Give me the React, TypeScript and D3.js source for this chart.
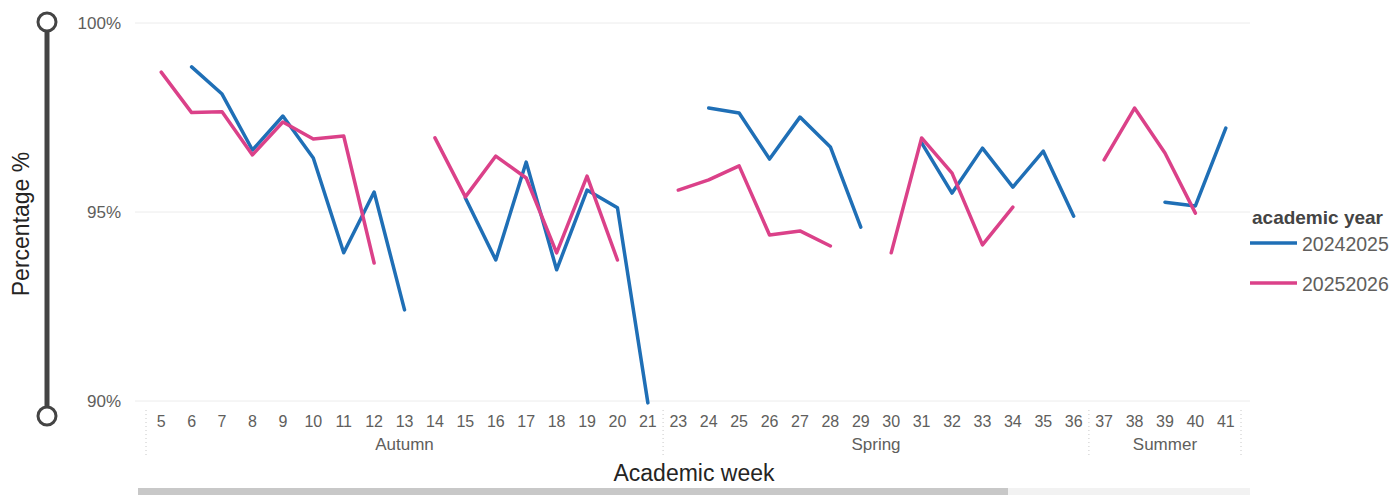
import React from "react";
import * as d3 from "d3";

const weeks: number[] = [5,6,7,8,9,10,11,12,13,14,15,16,17,18,19,20,21,23,24,25,26,27,28,29,30,31,32,33,34,35,36,37,38,39,40,41];
const terms: { name: string; first: number; last: number }[] = [
  { name: "Autumn", first: 5, last: 21 },
  { name: "Spring", first: 23, last: 36 },
  { name: "Summer", first: 37, last: 41 },
];
const series2024: (number | null)[] = [
  null, 98.84, 98.12, 96.64, 97.54, 96.43, 93.92, 95.53, 92.41, null, 95.37, 93.73, 96.32, 93.47, 95.58, 95.11, 89.95,
  null, 97.75, 97.62, 96.40, 97.51, 96.72, 94.60, null, 96.83, 95.50, 96.69, 95.66, 96.61, 94.89,
  null, null, 95.26, 95.16, 97.22,
];
const series2025: (number | null)[] = [
  98.70, 97.63, 97.65, 96.51, 97.38, 96.93, 97.01, 93.65, null, 96.96, 95.40, 96.48, 95.90, 93.92, 95.95, 93.73, null,
  95.58, 95.85, 96.22, 94.39, 94.50, 94.10, null, 93.92, 96.96, 96.03, 94.13, 95.13, null, null,
  96.38, 97.75, 96.56, 94.97, null,
];
const yTicks: number[] = [90, 95, 100];
const legendItems = [
  { label: "20242025", color: "#1F6FB6", values: series2024 },
  { label: "20252026", color: "#DB4189", values: series2025 },
];

const FONT = "'Liberation Sans', Arial, sans-serif";

export default function App() {
  const W = 1392, H = 495;
  const x = d3.scaleBand<number>().domain(weeks).range([146, 1241]).padding(0);
  const y = d3.scaleLinear().domain([90, 100]).range([401, 23]);
  const cx = (w: number) => (x(w) as number) + x.bandwidth() / 2;

  const line = d3
    .line<number | null>()
    .defined((d) => d != null)
    .x((_, i) => cx(weeks[i]))
    .y((d) => y(d as number));

  const sepXs: number[] = [x(terms[0].first) as number];
  terms.forEach((t) => sepXs.push((x(t.last) as number) + x.bandwidth()));

  return (
    <div style={{ position: "absolute", left: 0, top: 0 }}>
      <svg width={W} height={H} style={{ display: "block", fontFamily: FONT }}>
        <rect width={W} height={H} fill="#fff" />
        {/* slider */}
        <line x1={47} x2={47} y1={31} y2={407} stroke="#444" strokeWidth={5} />
        <circle cx={47} cy={22} r={9} fill="#fff" stroke="#444" strokeWidth={3} />
        <circle cx={47} cy={416} r={9} fill="#fff" stroke="#444" strokeWidth={3} />

        {/* gridlines and y ticks */}
        {yTicks.map((t) => (
          <g key={t}>
            <line x1={135} x2={1250} y1={y(t)} y2={y(t)} stroke="#ececec" strokeWidth={1} />
            <text x={121} y={y(t)} textAnchor="end" dominantBaseline="central" fontSize={17} fill="#605e5c">
              {t}%
            </text>
          </g>
        ))}

        {/* x ticks */}
        {weeks.map((w) => (
          <text key={w} x={cx(w)} y={421} textAnchor="middle" dominantBaseline="central" fontSize={16} fill="#605e5c">
            {w}
          </text>
        ))}
        {sepXs.map((sx, i) => (
          <line key={i} x1={sx} x2={sx} y1={410} y2={458} stroke="#c8c8c8" strokeWidth={1} strokeDasharray="1,3" />
        ))}
        {terms.map((t, i) => (
          <text key={t.name} x={(sepXs[i] + sepXs[i + 1]) / 2} y={444} textAnchor="middle" dominantBaseline="central" fontSize={17} fill="#605e5c">
            {t.name}
          </text>
        ))}

        {/* lines */}
        {legendItems.map((s) => (
          <path key={s.label} d={line(s.values) || ""} fill="none" stroke={s.color} strokeWidth={3.5} strokeLinejoin="round" strokeLinecap="round" />
        ))}

        {/* axis titles */}
        <text x={694} y={473} textAnchor="middle" dominantBaseline="central" fontSize={23} fill="#252423">
          Academic week
        </text>
        <text transform="translate(21,224) rotate(-90)" textAnchor="middle" dominantBaseline="central" fontSize={23} fill="#252423">
          Percentage %
        </text>

        {/* legend */}
        <text x={1252} y={217} dominantBaseline="central" fontSize={19} fontWeight="bold" fill="#444">
          academic year
        </text>
        {legendItems.map((s, i) => (
          <g key={s.label}>
            <line x1={1250} x2={1297} y1={243 + i * 40} y2={243 + i * 40} stroke={s.color} strokeWidth={3.5} />
            <text x={1302} y={244 + i * 40} dominantBaseline="central" fontSize={19.5} fill="#605e5c">
              {s.label}
            </text>
          </g>
        ))}

        {/* scrollbar */}
        <rect x={1008} y={488} width={242} height={7} fill="#f2f2f2" />
        <rect x={138} y={488} width={870} height={7} fill="#c8c8c8" />
      </svg>
    </div>
  );
}
